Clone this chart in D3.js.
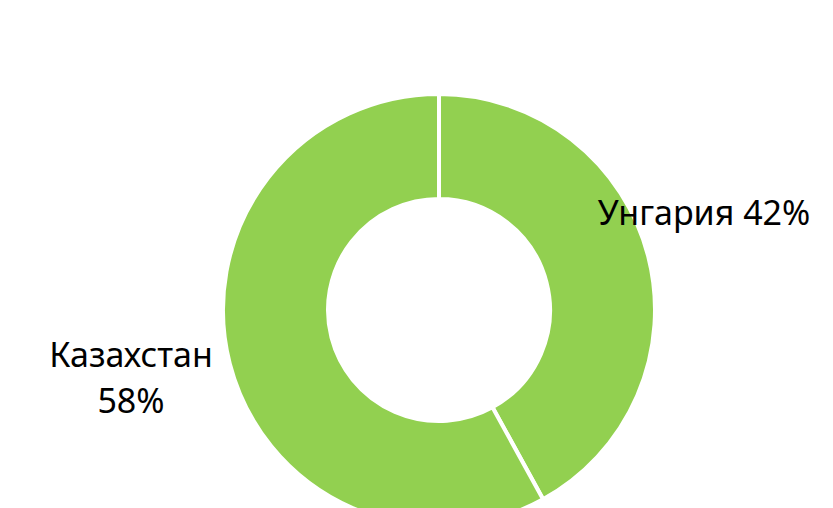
<!DOCTYPE html>
<html>
<head>
<meta charset="utf-8">
<script src="https://cdn.jsdelivr.net/npm/d3@7"></script>
<style>
  body { margin: 0; background: #fff; }
  text { font-family: "Noto Sans", "Open Sans", sans-serif; fill: #000; }
</style>
</head>
<body>
<svg id="chart" width="833" height="508"></svg>
<script>
const countries = ["Унгария", "Казахстан"];
const shares = [42, 58];

const svg = d3.select("#chart");
const cx = 439, cy = 310;
const outerR = 216, innerR = 111;

const pie = d3.pie().sort(null).value(d => d.v);
const arcs = pie(countries.map((c, i) => ({ name: c, v: shares[i] })));

const arc = d3.arc().innerRadius(innerR).outerRadius(outerR);

const g = svg.append("g").attr("transform", `translate(${cx},${cy})`);

g.selectAll("path")
    .data(arcs)
    .enter()
    .append("path")
    .attr("d", arc)
    .attr("fill", "#92D050")
    .attr("stroke", "#fff")
    .attr("stroke-width", 4)
    .attr("stroke-linejoin", "miter");

// labels
const fs = 34;
svg.append("text")
    .attr("x", 704)
    .attr("y", 225)
    .attr("text-anchor", "middle")
    .style("font-size", fs + "px")
    .text(`${countries[0]} ${shares[0]}%`);

const kz = svg.append("text")
    .attr("x", 131)
    .attr("text-anchor", "middle")
    .style("font-size", fs + "px");
kz.append("tspan").attr("x", 131).attr("y", 367).text(countries[1]);
kz.append("tspan").attr("x", 131).attr("y", 413).text(`${shares[1]}%`);
</script>
</body>
</html>
